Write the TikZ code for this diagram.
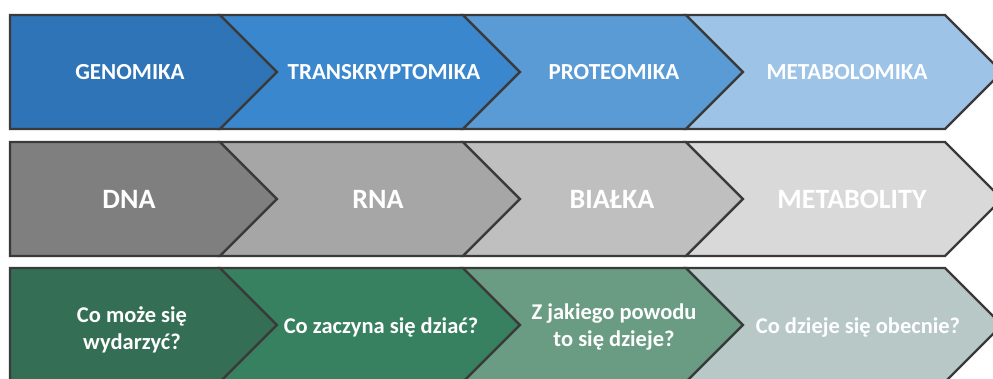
\documentclass[tikz,border=0pt]{standalone}
\usepackage{fontspec}
\setmainfont{Carlito}
\definecolor{bA}{RGB}{46,116,182}
\definecolor{bB}{RGB}{58,135,205}
\definecolor{bC}{RGB}{91,155,213}
\definecolor{bD}{RGB}{157,195,230}
\definecolor{gA}{RGB}{127,127,127}
\definecolor{gB}{RGB}{166,166,166}
\definecolor{gC}{RGB}{191,191,191}
\definecolor{gD}{RGB}{217,217,217}
\definecolor{vA}{RGB}{52,110,85}
\definecolor{vB}{RGB}{55,128,96}
\definecolor{vC}{RGB}{106,156,132}
\definecolor{vD}{RGB}{184,200,198}
\definecolor{edge}{RGB}{58,58,58}
\tikzset{
  chev/.style={draw=edge, line width=2.4pt, line join=miter},
  lblA/.style={text=white, font=\fontsize{23}{27}\selectfont\bfseries, anchor=base, inner sep=0pt},
  lblB/.style={text=white, font=\fontsize{28}{32}\selectfont\bfseries, anchor=base, inner sep=0pt},
  lblC/.style={text=white, font=\fontsize{22.5}{27}\selectfont\bfseries, align=center, inner sep=0pt},
}
\newcommand{\chevrow}[6]{%
  % #1 top, #2 bottom, #3-#6 colours
  \pgfmathsetmacro{\mid}{(#1+#2)/2}
  \path[chev, fill=#3] (10,#1) -- (220,#1) -- (277,\mid) -- (220,#2) -- (10,#2) -- cycle;
  \path[chev, fill=#4] (220,#1) -- (463,#1) -- (520,\mid) -- (463,#2) -- (220,#2) -- (277,\mid) -- cycle;
  \path[chev, fill=#5] (463,#1) -- (686,#1) -- (743,\mid) -- (686,#2) -- (463,#2) -- (520,\mid) -- cycle;
  \path[chev, fill=#6] (686,#1) -- (945,#1) -- (1002,\mid) -- (945,#2) -- (686,#2) -- (743,\mid) -- cycle;
}
\begin{document}
\begin{tikzpicture}[x=1pt, y=-1pt]
\useasboundingbox (0,0) rectangle (993,379);
\begin{scope}
\clip (0,0) rectangle (993,379);
\fill[white] (0,0) rectangle (993,379);
\chevrow{15}{129}{bA}{bB}{bC}{bD}
\chevrow{142}{256}{gA}{gB}{gC}{gD}
\chevrow{268}{382}{vA}{vB}{vC}{vD}
\end{scope}
% row 1
\node[lblA] (t1) at (130,80) {GENOMIKA};
\node[lblA] (t2) at (384,80) {TRANSKRYPTOMIKA};
\node[lblA] (t3) at (614,80) {PROTEOMIKA};
\node[lblA] (t4) at (847,80) {METABOLOMIKA};
% row 2
\node[lblB] (m1) at (129,209) {DNA};
\node[lblB] (m2) at (378,209) {RNA};
\node[lblB] (m3) at (612,209) {BIAŁKA};
\node[lblB] (m4) at (852,209) {METABOLITY};
% row 3
\node[lblC] (q1) at (132,330) {Co może się\\wydarzyć?};
\node[lblC, anchor=base] (q2) at (381,333) {Co zaczyna się dziać?};
\node[lblC] (q3) at (614,327) {Z jakiego powodu\\to się dzieje?};
\node[lblC, anchor=base] (q4) at (858,333) {Co dzieje się obecnie?};
\end{tikzpicture}
\end{document}
